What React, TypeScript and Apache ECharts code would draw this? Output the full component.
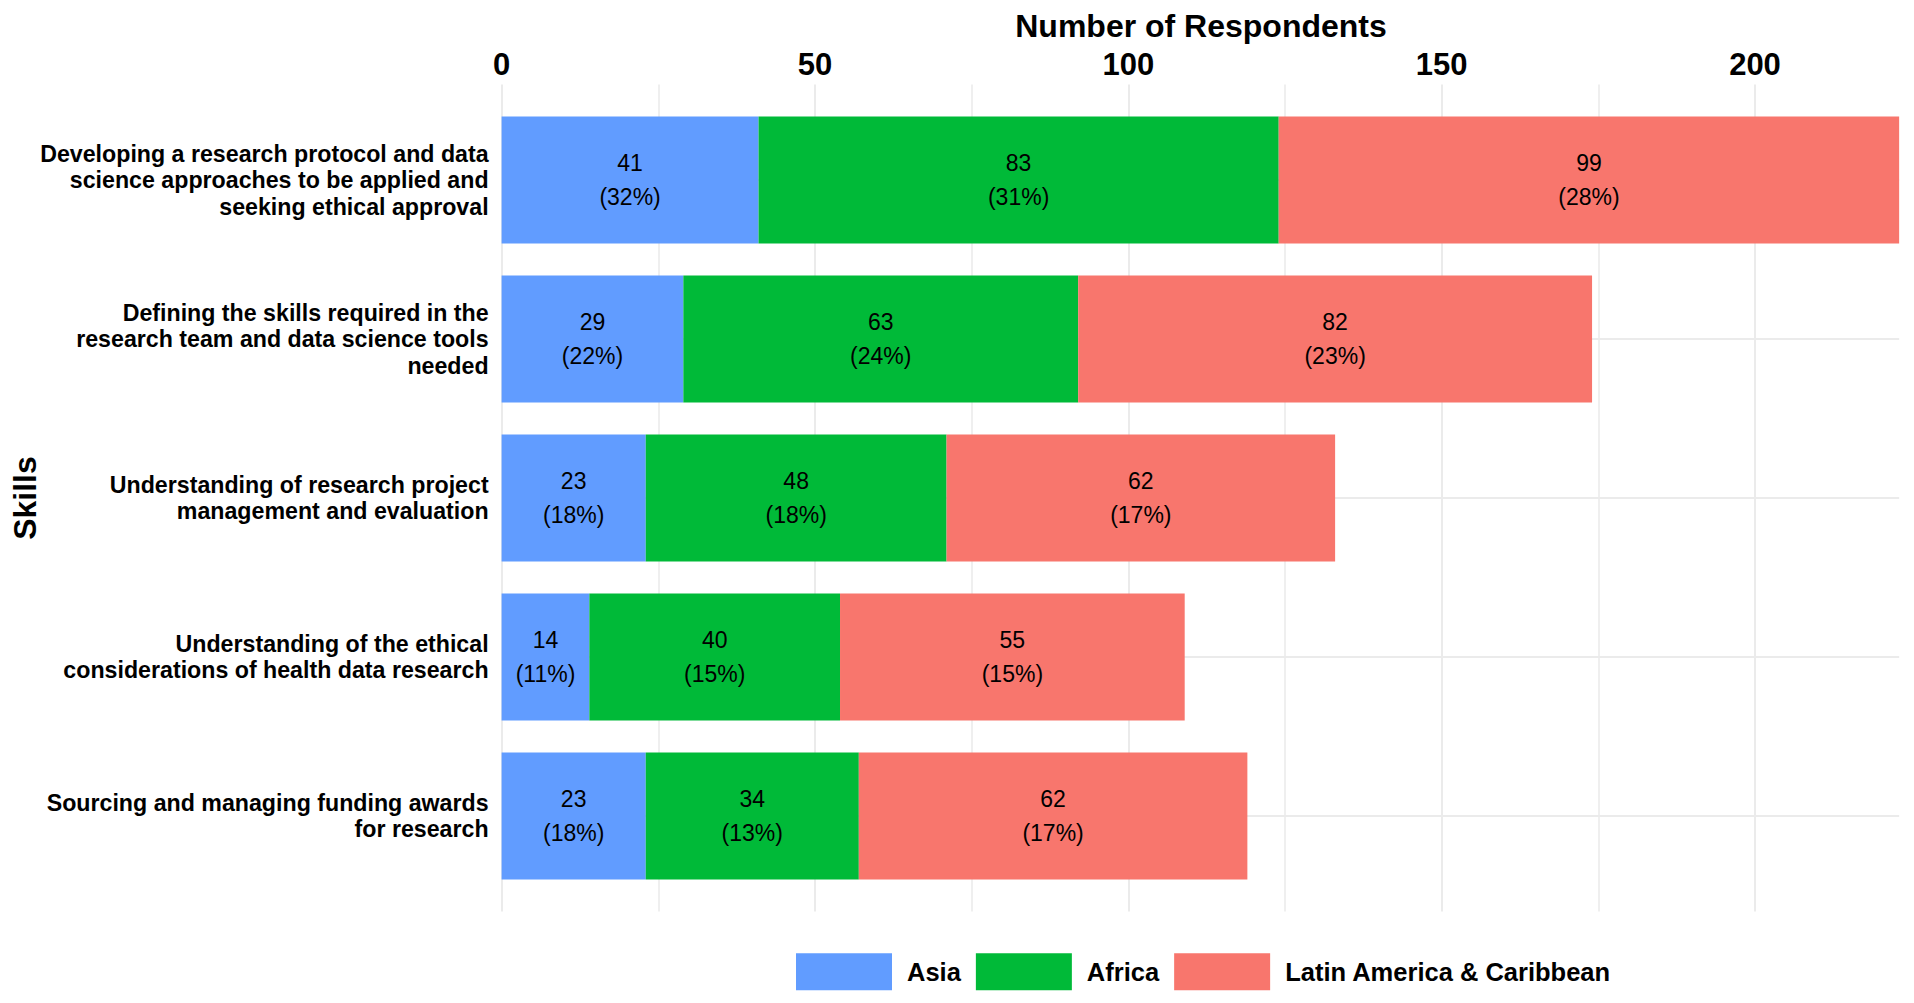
import React, { useEffect, useRef } from "react";
import * as echarts from "echarts";

const categories = [
  "Developing a research protocol and data\nscience approaches to be applied and\nseeking ethical approval",
  "Defining the skills required in the\nresearch team and data science tools\nneeded",
  "Understanding of research project\nmanagement and evaluation",
  "Understanding of the ethical\nconsiderations of health data research",
  "Sourcing and managing funding awards\nfor research",
];
const seriesNames = ["Asia", "Africa", "Latin America & Caribbean"];
const asiaValues = [41, 29, 23, 14, 23];
const africaValues = [83, 63, 48, 40, 34];
const latinValues = [99, 82, 62, 55, 62];
const asiaPct = ["32%", "22%", "18%", "11%", "18%"];
const africaPct = ["31%", "24%", "18%", "15%", "13%"];
const latinPct = ["28%", "23%", "17%", "15%", "17%"];
const colors = ["#619CFF", "#00BA38", "#F8766D"];
const xMax = 223;
const majorTicks = [0, 50, 100, 150, 200];
const minorTicks = [25, 75, 125, 175];
const xTitle = "Number of Respondents";
const yTitle = "Skills";

const FONT = "'Liberation Sans', Arial, Helvetica, sans-serif";

export default function App() {
  const ref = useRef<HTMLDivElement>(null);
  useEffect(() => {
    if (!ref.current) return;
    const chart = echarts.init(ref.current, undefined, { renderer: "svg" });
    const pxPerUnit = 6.267;
    const left = 501.6;
    const gridWidth = xMax * pxPerUnit;
    const values = [asiaValues, africaValues, latinValues];
    const pcts = [asiaPct, africaPct, latinPct];
    const gridColor = "#EBEBEB";

    const gridLines = [
      ...majorTicks.map((v) => ({ xAxis: v, lineStyle: { color: gridColor, width: 2, type: "solid" } })),
      ...minorTicks.map((v) => ({ xAxis: v, lineStyle: { color: gridColor, width: 1.6, type: "solid" } })),
    ];

    chart.setOption({
      animation: false,
      backgroundColor: "#ffffff",
      textStyle: { fontFamily: FONT },
      grid: [
        { left, top: 84.6, width: gridWidth, height: 826.8 },
        { left, top: 180, width: gridWidth, height: 636 },
        { left, top: 100.5, width: gridWidth, height: 795 },
      ],
      xAxis: [
        {
          gridIndex: 0,
          type: "value",
          position: "top",
          min: 0,
          max: xMax,
          interval: 50,
          axisLine: { show: false },
          axisTick: { show: false },
          axisLabel: {
            fontSize: 31,
            fontWeight: "bold",
            color: "#000",
            fontFamily: FONT,
            margin: 5,
            showMaxLabel: true,
            formatter: (v: number) => (majorTicks.indexOf(v) >= 0 ? String(v) : ""),
          },
          splitLine: { show: false },
        },
        { gridIndex: 1, type: "value", min: 0, max: xMax, show: false },
        { gridIndex: 2, type: "value", min: 0, max: xMax, show: false },
      ],
      yAxis: [
        { gridIndex: 0, type: "value", min: 0, max: 1, show: false },
        {
          gridIndex: 1,
          type: "value",
          min: 0,
          max: 4,
          interval: 1,
          inverse: true,
          axisLine: { show: false },
          axisTick: { show: false },
          axisLabel: { show: false },
          splitLine: { show: true, lineStyle: { color: gridColor, width: 2 } },
        },
        {
          gridIndex: 2,
          type: "category",
          data: categories,
          inverse: true,
          axisLine: { show: false },
          axisTick: { show: false },
          splitLine: { show: false },
          axisLabel: {
            fontSize: 23.2,
            fontWeight: "bold",
            color: "#000",
            lineHeight: 26.5,
            margin: 13,
            fontFamily: FONT,
          },
        },
      ],
      legend: {
        left: 796,
        top: 953.3,
        padding: 0,
        itemWidth: 96,
        itemHeight: 37,
        itemGap: 15,
        icon: "rect",
        data: seriesNames,
        textStyle: {
          fontSize: 25.5,
          fontWeight: "bold",
          color: "#000",
          fontFamily: FONT,
          padding: [0, 0, 0, 10],
        },
      },
      graphic: [
        {
          type: "text",
          x: 1201,
          y: 25.8,
          style: {
            text: xTitle,
            fontSize: 32,
            fontWeight: "bold",
            fontFamily: FONT,
            fill: "#000",
            textAlign: "center",
            textVerticalAlign: "middle",
          },
        },
        {
          type: "text",
          x: 25,
          y: 498,
          rotation: Math.PI / 2,
          style: {
            text: yTitle,
            fontSize: 32,
            fontWeight: "bold",
            fontFamily: FONT,
            fill: "#000",
            textAlign: "center",
            textVerticalAlign: "middle",
          },
        },
      ],
      series: [
        {
          name: "gridlines",
          type: "line",
          xAxisIndex: 0,
          yAxisIndex: 0,
          data: [],
          z: 0,
          silent: true,
          markLine: {
            z: 0,
            silent: true,
            symbol: ["none", "none"],
            label: { show: false },
            emphasis: { disabled: true },
            data: gridLines,
          },
        },
        ...seriesNames.map((name, i) => ({
          name,
          type: "bar",
          xAxisIndex: 2,
          yAxisIndex: 2,
          stack: "total",
          barWidth: "80%",
          z: 10,
          itemStyle: { color: colors[i] },
          data: values[i],
          label: {
            show: true,
            position: "inside",
            color: "#000",
            fontSize: 23,
            lineHeight: 34,
            fontFamily: FONT,
            formatter: (p: any) => `${p.value}\n(${pcts[i][p.dataIndex]})`,
          },
        })),
      ],
    });
    return () => chart.dispose();
  }, []);
  return (
    <div
      ref={ref}
      style={{
        position: "fixed",
        left: 0,
        top: 0,
        width: 1914,
        height: 1003,
        overflow: "hidden",
        background: "#fff",
      }}
    />
  );
}
